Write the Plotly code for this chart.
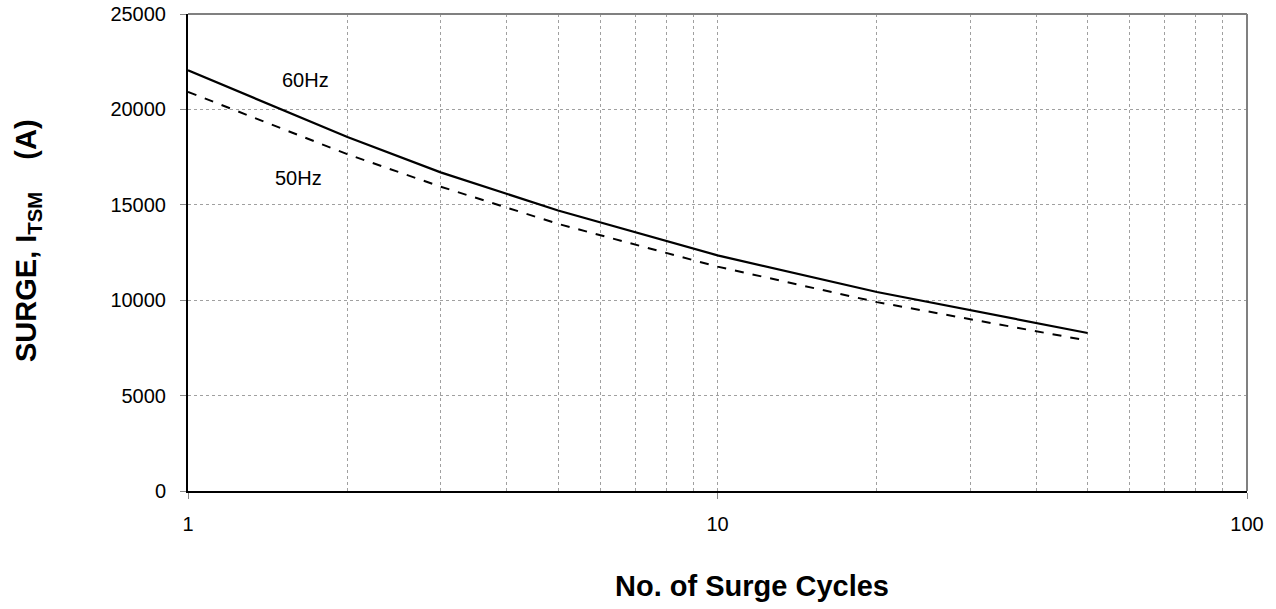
import plotly.graph_objects as go

cycles = [1, 2, 3, 5, 10, 20, 50]
surge_60hz = [22050, 18550, 16700, 14700, 12350, 10430, 8280]
surge_50hz = [20920, 17650, 15950, 14000, 11760, 9900, 7880]

x_major = [1, 10, 100]
x_major_text = ["1", "10", "100"]
x_minor = [2, 3, 4, 5, 6, 7, 8, 9, 20, 30, 40, 50, 60, 70, 80, 90]
y_ticks = [0, 5000, 10000, 15000, 20000, 25000]
y_tick_text = ["0", "5000", "10000", "15000", "20000", "25000"]

FONT = "Liberation Sans, Arial, sans-serif"
W, H = 1276, 609
L, R, T, B = 188, 1247, 14, 491  # plot area in page pixels
PW, PH = R - L, B - T


def px(x):
    return (x - L) / PW


def py(y):
    return (B - y) / PH


def label(x, y, text, size, angle=0):
    fig.add_annotation(x=px(x), y=py(y), xref="paper", yref="paper", text=text,
                       showarrow=False, xanchor="center", yanchor="middle",
                       textangle=angle, font=dict(family=FONT, size=size, color="black"))


fig = go.Figure()
fig.add_trace(go.Scatter(x=cycles, y=surge_60hz, mode="lines", name="60Hz",
                         line=dict(color="black", width=2.2)))
fig.add_trace(go.Scatter(x=cycles, y=surge_50hz, mode="lines", name="50Hz",
                         line=dict(color="black", width=2, dash="dash")))

label(305, 80, "60Hz", 20)
label(298, 178, "50Hz", 20)
label(752, 586, "<b>No. of Surge Cycles</b>", 29)
label(28, 241, "<b>SURGE, I<sub>TSM</sub>\u00a0\u00a0\u00a0\u00a0(A)</b>", 29, angle=-90)

axis_common = dict(
    showgrid=True, gridcolor="#a0a0a0", griddash="dot", gridwidth=1,
    showline=True, linecolor="black", linewidth=2,
    ticks="outside", ticklen=6, tickcolor="#888888",
    tickfont=dict(family=FONT, size=20, color="black"), zeroline=False,
    ticklabeloverflow="allow",
)

fig.update_layout(
    width=W, height=H,
    margin=dict(l=L, r=W - R, t=T, b=H - B, autoexpand=False),
    paper_bgcolor="white", plot_bgcolor="white",
    showlegend=False,
    font=dict(family=FONT, size=20, color="black"),
    xaxis=dict(type="log", range=[0, 2], tickvals=x_major, ticktext=x_major_text,
               minor=dict(tickvals=x_minor, showgrid=True, gridcolor="#a0a0a0",
                          griddash="dot", gridwidth=1, ticks=""),
               ticklabelstandoff=8, **axis_common),
    yaxis=dict(range=[0, 25000], tickvals=y_ticks, ticktext=y_tick_text,
               ticklabelstandoff=10, **axis_common),
)

fig.add_shape(type="line", xref="paper", yref="paper", x0=0, x1=1, y0=1, y1=1,
              line=dict(color="#808080", width=2))
fig.add_shape(type="line", xref="paper", yref="paper", x0=1, x1=1, y0=0, y1=1,
              line=dict(color="#808080", width=2))

fig.write_html("out.html", config={"displayModeBar": False},
               post_script="document.body.style.margin='0';document.body.style.overflow='hidden';")
